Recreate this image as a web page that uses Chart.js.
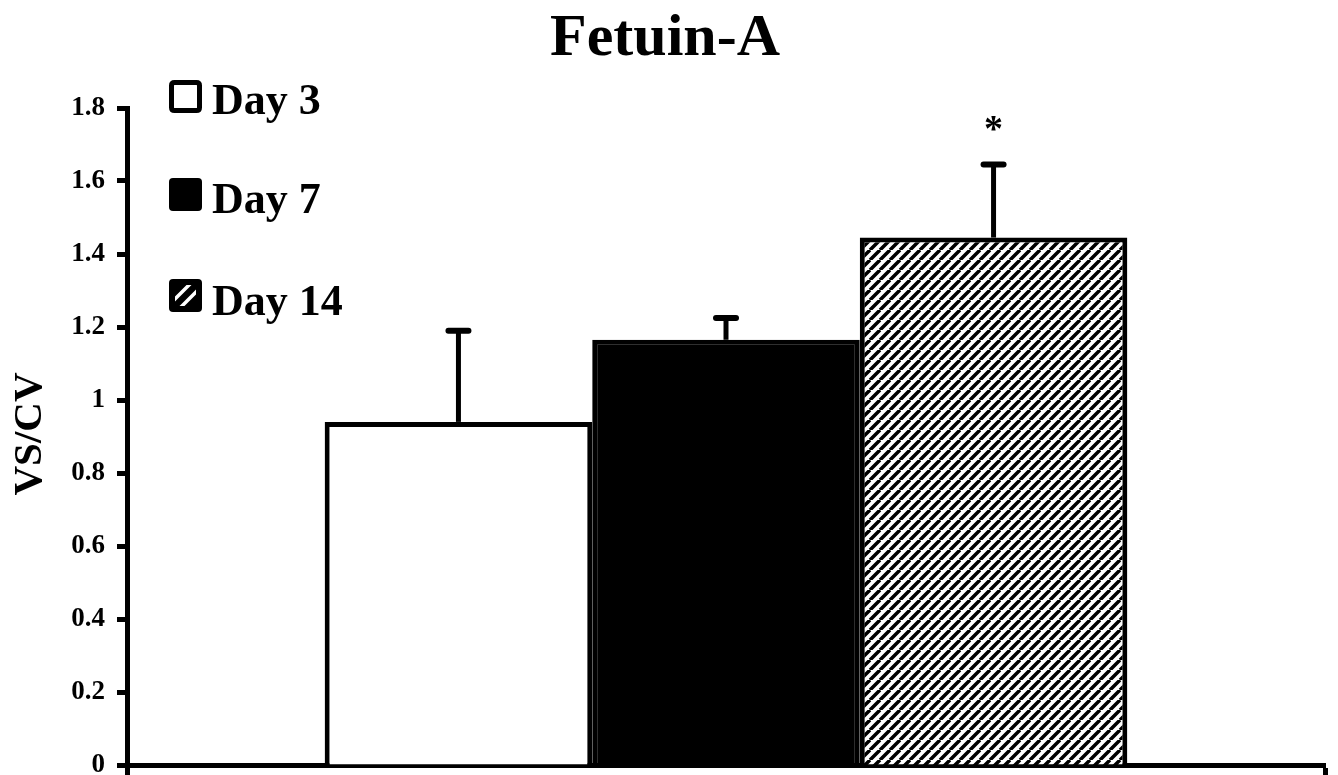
<!DOCTYPE html>
<html><head><meta charset="utf-8">
<style>html,body{margin:0;padding:0;background:#fff}#wrap{width:1338px;height:775px}</style>
<script src="https://cdn.jsdelivr.net/npm/chart.js@4.4.0/dist/chart.umd.min.js"></script>
</head><body><div id="wrap"><canvas id="c" width="1338" height="775"></canvas></div>
<script>
const chartTitle = 'Fetuin-A';
const yAxisTitle = 'VS/CV';
const categories = [''];
const seriesLabels = ['Day 3', 'Day 7', 'Day 14'];
const day3 = [0.94];
const day7 = [1.165];
const day14 = [1.445];
const upperErrors = [0.25, 0.06, 0.2];
const significance = ['', '', '*'];
const yMin = 0, yMax = 1.8, yStep = 0.2;

const SERIF = '"Liberation Serif", "Times New Roman", serif';

function hatchPattern(ctx) {
  const s = 10;
  const c = document.createElement('canvas');
  c.width = s; c.height = s;
  const g = c.getContext('2d');
  g.fillStyle = '#fff'; g.fillRect(0, 0, s, s);
  g.strokeStyle = '#000'; g.lineWidth = 3.5;
  g.beginPath();
  for (const x of [-s, 0, s]) { g.moveTo(x, s); g.lineTo(x + s, 0); }
  g.stroke();
  return ctx.createPattern(c, 'repeat');
}

const canvas = document.getElementById('c');
const ctx0 = canvas.getContext('2d');
const hatch = hatchPattern(ctx0);

function roundRect(ctx, x, y, w, h, r) {
  ctx.beginPath();
  ctx.moveTo(x + r, y);
  ctx.lineTo(x + w - r, y); ctx.quadraticCurveTo(x + w, y, x + w, y + r);
  ctx.lineTo(x + w, y + h - r); ctx.quadraticCurveTo(x + w, y + h, x + w - r, y + h);
  ctx.lineTo(x + r, y + h); ctx.quadraticCurveTo(x, y + h, x, y + h - r);
  ctx.lineTo(x, y + r); ctx.quadraticCurveTo(x, y, x + r, y);
  ctx.closePath();
}

const decor = {
  id: 'decor',
  afterDatasetsDraw(chart) {
    const ctx = chart.ctx;
    const ys = chart.scales.y;
    ctx.save();
    chart.data.datasets.forEach((ds, i) => {
      const bar = chart.getDatasetMeta(i).data[0];
      const v = ds.data[0];
      const top = ys.getPixelForValue(v + upperErrors[i]);
      ctx.strokeStyle = '#000';
      ctx.lineWidth = 5;
      ctx.lineCap = 'butt';
      ctx.beginPath(); ctx.moveTo(bar.x, bar.y); ctx.lineTo(bar.x, top); ctx.stroke();
      ctx.lineWidth = 6; ctx.lineCap = 'round';
      ctx.beginPath(); ctx.moveTo(bar.x - 10, top); ctx.lineTo(bar.x + 10, top); ctx.stroke();
      if (significance[i]) {
        ctx.fillStyle = '#000';
        ctx.font = 'bold 38px ' + SERIF;
        ctx.textAlign = 'center'; ctx.textBaseline = 'alphabetic';
        ctx.fillText(significance[i], bar.x, top - 24);
      }
    });
    ctx.restore();
  },
  afterDraw(chart) {
    const ctx = chart.ctx;
    ctx.save();
    ctx.fillStyle = '#000';
    ctx.font = 'bold 60px ' + SERIF;
    ctx.textAlign = 'center'; ctx.textBaseline = 'alphabetic';
    ctx.fillText(chartTitle, 665, 55);
    ctx.save();
    ctx.translate(41, 434);
    ctx.rotate(-Math.PI / 2);
    ctx.font = 'bold 41px ' + SERIF;
    ctx.textAlign = 'center'; ctx.textBaseline = 'alphabetic';
    ctx.fillText(yAxisTitle, 0, 0);
    ctx.restore();
    const boxes = [80, 178, 279];
    const bases = [114, 213, 315];
    chart.data.datasets.forEach((ds, i) => {
      const bx = 169, by = boxes[i], bw = 33, bh = 33;
      if (i === 0) {
        ctx.fillStyle = '#fff';
        roundRect(ctx, bx + 2.5, by + 2.5, bw - 5, bh - 5, 3);
        ctx.fill();
        ctx.strokeStyle = '#000'; ctx.lineWidth = 5; ctx.stroke();
      } else if (i === 1) {
        ctx.fillStyle = '#000';
        roundRect(ctx, bx, by, bw, bh, 4); ctx.fill();
      } else {
        ctx.fillStyle = '#000';
        roundRect(ctx, bx, by, bw, bh, 4); ctx.fill();
        ctx.save();
        ctx.beginPath(); ctx.rect(bx + 6, by + 6, bw - 12, bh - 12); ctx.clip();
        ctx.strokeStyle = '#fff'; ctx.lineWidth = 3.5;
        ctx.beginPath();
        ctx.moveTo(bx + 4, by + 22); ctx.lineTo(bx + 22, by + 4);
        ctx.moveTo(bx + 11, by + 29); ctx.lineTo(bx + 29, by + 11);
        ctx.stroke();
        ctx.restore();
      }
      ctx.fillStyle = '#000';
      ctx.font = 'bold 44px ' + SERIF;
      ctx.textAlign = 'left'; ctx.textBaseline = 'alphabetic';
      ctx.fillText(ds.label, 212, bases[i]);
    });
    ctx.restore();
  }
};

new Chart(canvas, {
  type: 'bar',
  data: {
    labels: categories,
    datasets: [
      { label: seriesLabels[0], data: day3, backgroundColor: '#fff', borderColor: '#000', borderWidth: 5 },
      { label: seriesLabels[1], data: day7, backgroundColor: '#000', borderColor: '#000', borderWidth: 5 },
      { label: seriesLabels[2], data: day14, backgroundColor: hatch, borderColor: '#000', borderWidth: 5 }
    ]
  },
  options: {
    responsive: false,
    animation: false,
    devicePixelRatio: 1,
    categoryPercentage: 0.67,
    barPercentage: 1.0,
    layout: { padding: { left: 0, right: 13, top: 108, bottom: 0 } },
    plugins: { legend: { display: false }, tooltip: { enabled: false }, title: { display: false } },
    scales: {
      x: {
        offset: true,
        grid: { display: true, drawOnChartArea: false, drawTicks: true, tickLength: 10, tickWidth: 5, tickColor: '#000', offset: true },
        border: { display: true, color: '#000', width: 5 },
        ticks: { display: false },
        afterFit(s) { s.height = 10; s.paddingLeft = 0; s.paddingRight = 0; }
      },
      y: {
        min: yMin, max: yMax,
        ticks: {
          stepSize: yStep, color: '#000', padding: 12,
          font: { family: SERIF, size: 27, weight: 'bold' },
          callback: v => String(Math.round(v * 10) / 10)
        },
        grid: { display: true, drawOnChartArea: false, drawTicks: true, tickLength: 10, tickWidth: 5, tickColor: '#000' },
        border: { display: true, color: '#000', width: 5 },
        afterFit(s) { s.width = 127; s.paddingTop = 0; s.paddingBottom = 0; }
      }
    }
  },
  plugins: [decor]
});
</script>
</body></html>
